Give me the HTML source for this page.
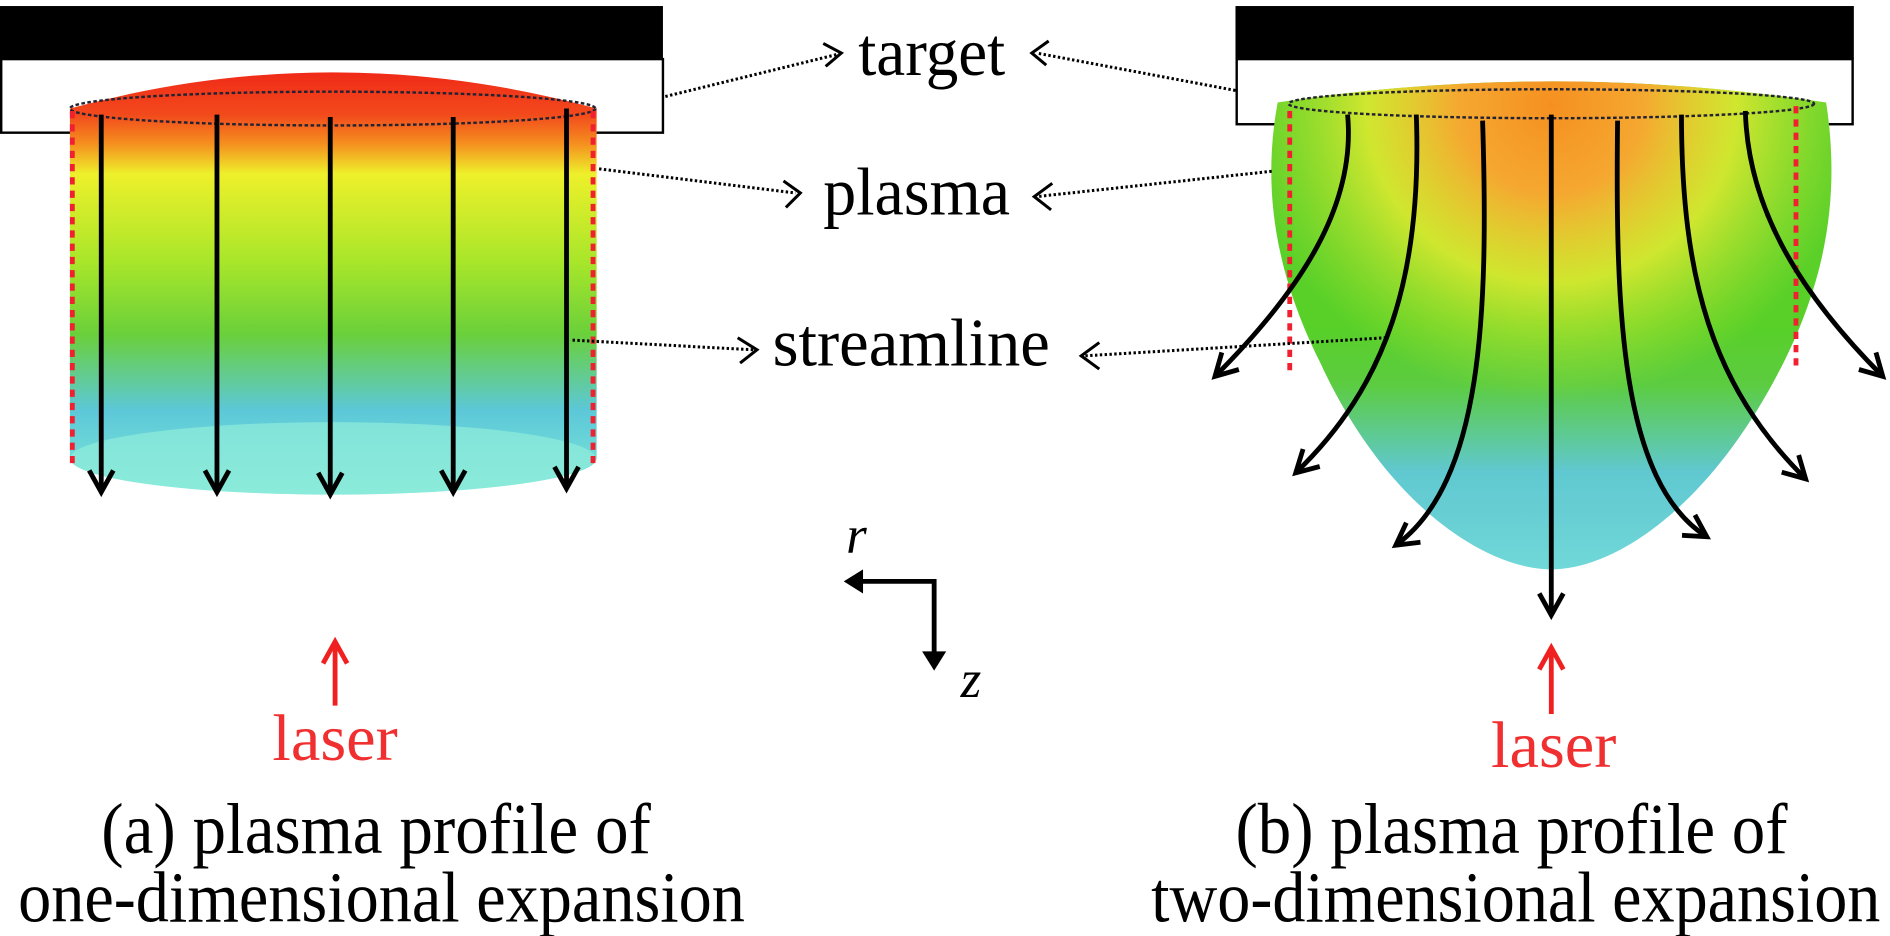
<!DOCTYPE html>
<html><head><meta charset="utf-8"><style>html,body{margin:0;padding:0;background:#fff;overflow:hidden}svg{display:block}</style></head><body>
<svg width="1890" height="936" viewBox="0 0 1568 776" preserveAspectRatio="none" xmlns="http://www.w3.org/2000/svg">
<defs>
<linearGradient id="g1" x1="0" y1="0" x2="0" y2="1">
<stop offset="0" stop-color="#f02a18"/><stop offset="0.1" stop-color="#f24a1c"/><stop offset="0.17" stop-color="#f5901f"/><stop offset="0.24" stop-color="#eef02a"/><stop offset="0.45" stop-color="#a8e62a"/><stop offset="0.62" stop-color="#6ad03a"/><stop offset="0.8" stop-color="#5cc8d8"/><stop offset="1" stop-color="#80e8d8"/>
</linearGradient>
<linearGradient id="g2" x1="0" y1="0" x2="0" y2="1">
<stop offset="0" stop-color="#60d02a"/><stop offset="0.5" stop-color="#58d028"/><stop offset="0.62" stop-color="#5ccc40"/><stop offset="0.8" stop-color="#60c8d0"/><stop offset="1" stop-color="#70d8d8"/>
</linearGradient>
<radialGradient id="g3" cx="0.5" cy="0.05" r="0.55" gradientTransform="translate(0.5,0.05) scale(1,1.1) translate(-0.5,-0.05)"><stop offset="0" stop-color="#f59020"/><stop offset="0.3" stop-color="#f5a830"/><stop offset="0.6" stop-color="#ecec30" stop-opacity="0.8"/><stop offset="1" stop-color="#c0e830" stop-opacity="0"/></radialGradient>
<marker id="big" markerWidth="26" markerHeight="26" refX="20" refY="13" orient="auto" markerUnits="userSpaceOnUse"><path d="M2,3 L20,13 L2,23" fill="none" stroke="#000" stroke-width="4"/></marker>
<marker id="red" markerWidth="26" markerHeight="26" refX="20" refY="13" orient="auto" markerUnits="userSpaceOnUse"><path d="M2,3 L20,13 L2,23" fill="none" stroke="#f02020" stroke-width="4"/></marker>
</defs>
<rect x="0" y="5" width="550" height="44" fill="#000"/>
<rect x="1" y="49" width="549" height="61" fill="#fff" stroke="#000" stroke-width="2"/>
<path d="M58,90 Q276,30 495,90 L495,380 A218,30 0 0 1 58,380 Z" fill="url(#g1)"/>
<ellipse cx="276" cy="380" rx="218" ry="30" fill="#90ecdc" opacity="0.7"/>
<ellipse cx="276" cy="90" rx="218" ry="14" fill="none" stroke="#223" stroke-width="2" stroke-dasharray="3,2"/>
<line x1="60" y1="92" x2="60" y2="385" stroke="#f02030" stroke-width="4" stroke-dasharray="6,5"/>
<line x1="492" y1="92" x2="492" y2="385" stroke="#f02030" stroke-width="4" stroke-dasharray="6,5"/>
<g stroke="#000" stroke-width="4" fill="none" marker-end="url(#big)">
<line x1="84" y1="95" x2="84" y2="408"/><line x1="180" y1="95" x2="180" y2="408"/><line x1="274" y1="97" x2="274" y2="410"/><line x1="376" y1="97" x2="376" y2="408"/><line x1="470" y1="90" x2="470" y2="405"/>
</g>
<rect x="1025" y="5" width="513" height="44" fill="#000"/>
<rect x="1026" y="49" width="511" height="54" fill="#fff" stroke="#000" stroke-width="2"/>
<path d="M1060,85 Q1287,50 1515,85 C1525,150 1520,220 1480,300 C1420,420 1340,472 1287,472 C1234,472 1150,420 1095,300 C1055,220 1048,150 1060,85 Z" fill="url(#g2)"/>
<path d="M1060,85 Q1287,50 1515,85 C1525,150 1520,220 1480,300 C1420,420 1340,472 1287,472 C1234,472 1150,420 1095,300 C1055,220 1048,150 1060,85 Z" fill="url(#g3)"/>
<ellipse cx="1287" cy="86" rx="218" ry="12" fill="none" stroke="#223" stroke-width="2" stroke-dasharray="3,2"/>
<line x1="1070" y1="92" x2="1070" y2="312" stroke="#f02030" stroke-width="4" stroke-dasharray="6,5"/>
<line x1="1490" y1="88" x2="1490" y2="308" stroke="#f02030" stroke-width="4" stroke-dasharray="6,5"/>
<g stroke="#000" stroke-width="4" fill="none" marker-end="url(#big)">
<path d="M1118,95 C1125,170 1080,240 1008,312"/>
<path d="M1175,95 C1180,230 1150,320 1075,392"/>
<path d="M1230,100 C1235,260 1230,400 1158,452"/>
<line x1="1287" y1="95" x2="1287" y2="510"/>
<path d="M1342,100 C1340,260 1345,400 1416,445"/>
<path d="M1395,95 C1395,230 1420,320 1498,397"/>
<path d="M1448,92 C1450,170 1490,240 1562,312"/>
</g>
<g stroke="#000" stroke-width="2.5" stroke-dasharray="2,2" fill="none">
<line x1="552" y1="80" x2="695" y2="45"/>
<line x1="1025" y1="75" x2="860" y2="44"/>
<line x1="497" y1="140" x2="660" y2="160"/>
<line x1="1055" y1="142" x2="860" y2="163"/>
<line x1="475" y1="282" x2="625" y2="290"/>
<line x1="1150" y1="280" x2="900" y2="295"/>
</g>
<g stroke="#000" stroke-width="2.5" fill="none">
<path d="M683,36 L698,44 L685,55"/>
<path d="M870,34 L856,44 L868,54"/>
<path d="M650,150 L664,160 L652,172"/>
<path d="M873,152 L858,163 L872,174"/>
<path d="M612,280 L628,290 L614,301"/>
<path d="M912,284 L897,295 L912,306"/>
</g>
<g style="font-family:'Liberation Serif','Times New Roman',serif" fill="#000" font-size="56">
<text x="712" y="62" textLength="122" lengthAdjust="spacingAndGlyphs">target</text>
<text x="683" y="178" textLength="155" lengthAdjust="spacingAndGlyphs">plasma</text>
<text x="641" y="303" textLength="230" lengthAdjust="spacingAndGlyphs">streamline</text>
<text x="702" y="458" font-style="italic" font-size="44">r</text>
<text x="797" y="578" font-style="italic" font-size="44">z</text>
<text x="226" y="630" fill="#f03030" font-size="54" textLength="104" lengthAdjust="spacingAndGlyphs">laser</text>
<text x="1237" y="636" fill="#f03030" font-size="54" textLength="104" lengthAdjust="spacingAndGlyphs">laser</text>
<text x="84" y="707" font-size="60" textLength="456" lengthAdjust="spacingAndGlyphs">(a) plasma profile of</text>
<text x="15" y="764" font-size="60" textLength="603" lengthAdjust="spacingAndGlyphs">one-dimensional expansion</text>
<text x="1025" y="707" font-size="60" textLength="458" lengthAdjust="spacingAndGlyphs">(b) plasma profile of</text>
<text x="955" y="764" font-size="60" textLength="605" lengthAdjust="spacingAndGlyphs">two-dimensional expansion</text>
</g>
<g stroke="#000" stroke-width="4" fill="none">
<path d="M712,482 L775,482 L775,545"/>
</g>
<path d="M700,482 L716,472 L716,492 Z" fill="#000"/>
<path d="M775,556 L765,540 L785,540 Z" fill="#000"/>
<line x1="278" y1="585" x2="278" y2="532" stroke="#f02020" stroke-width="4" marker-end="url(#red)"/>
<line x1="1287" y1="592" x2="1287" y2="537" stroke="#f02020" stroke-width="4" marker-end="url(#red)"/>
</svg>
</body></html>
